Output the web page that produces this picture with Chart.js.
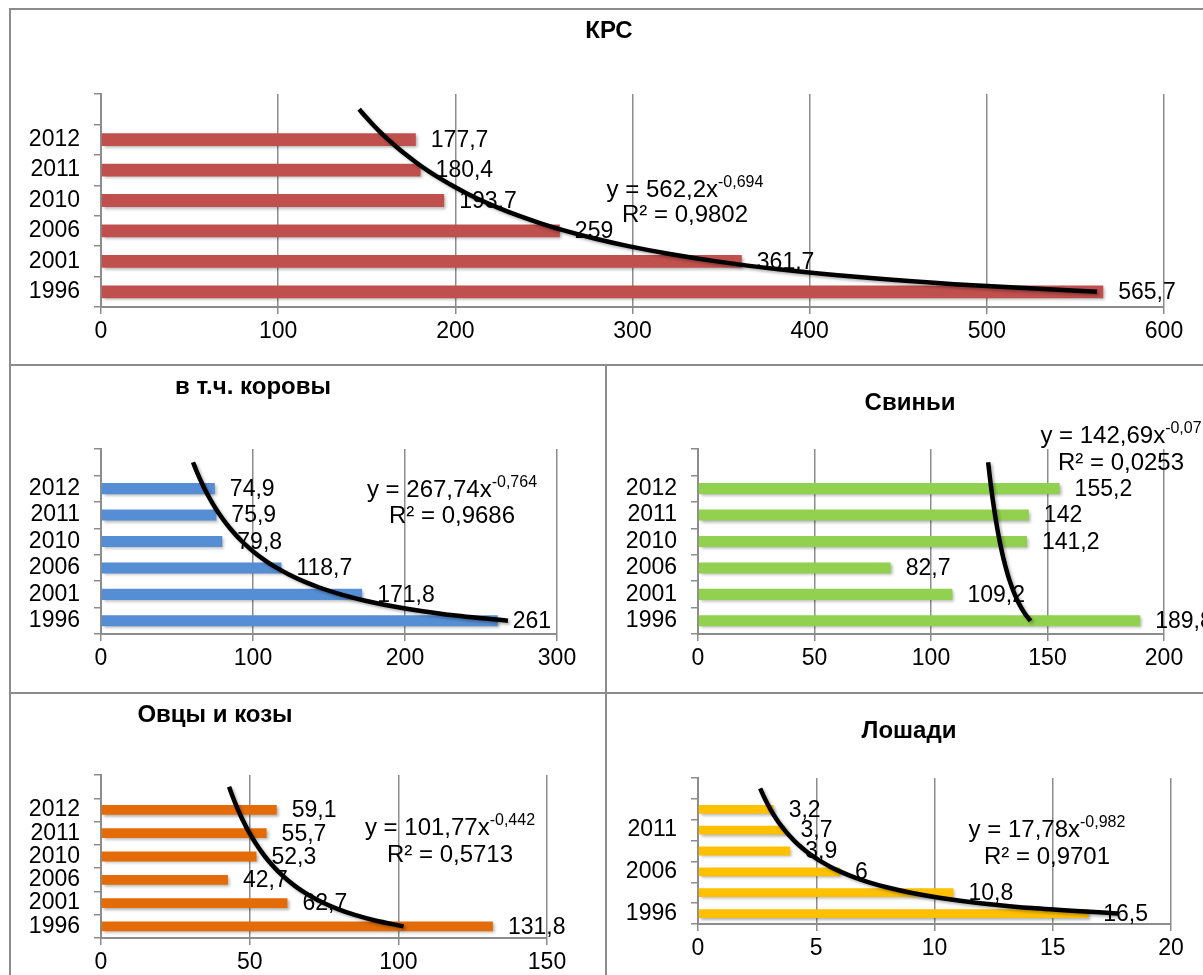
<!DOCTYPE html>
<html lang="ru">
<head>
<meta charset="UTF-8">
<script src="https://cdn.jsdelivr.net/npm/chart.js@4"></script>
<title>Поголовье скота</title>
<style>
  body { margin: 0; background: #fff; width: 1203px; height: 975px; overflow: hidden; position: relative; }
  canvas { position: absolute; }
  .ln { position: absolute; background: #8c8c8c; }
</style>
</head>
<body>
<div class="ln" style="left:9px;top:8px;width:1194px;height:2px"></div>
<div class="ln" style="left:9px;top:8px;width:2px;height:967px"></div>
<div class="ln" style="left:9px;top:364px;width:1194px;height:2px"></div>
<div class="ln" style="left:605px;top:364px;width:2px;height:611px"></div>
<div class="ln" style="left:9px;top:692px;width:1194px;height:2px"></div>

<canvas id="krs"></canvas>
<canvas id="cows"></canvas>
<canvas id="pigs"></canvas>
<canvas id="sheep"></canvas>
<canvas id="horses"></canvas>

<script>
// data
const years = ['1996', '2001', '2006', '2010', '2011', '2012'];
const krsValues = [565.7, 361.7, 259, 193.7, 180.4, 177.7];
const cowsValues = [261, 171.8, 118.7, 79.8, 75.9, 74.9];
const pigsValues = [189.8, 109.2, 82.7, 141.2, 142, 155.2];
const sheepValues = [131.8, 62.7, 42.7, 52.3, 55.7, 59.1];
const horsesValues = [16.5, 10.8, 6, 3.9, 3.7, 3.2];

// power trendlines y = a * x^b as printed on the chart, plus R²
const krsTrend = [562.2, -0.694, 0.9802];
const cowsTrend = [267.74, -0.764, 0.9686];
const pigsTrend = [142.69, -0.07, 0.0253];
const sheepTrend = [101.77, -0.442, 0.5713];
const horsesTrend = [17.78, -0.982, 0.9701];

const FONT = '"Liberation Sans", Arial, sans-serif';
const GRID = '#8c8c8c';

function fmt(v) {
    return String(v).replace('.', ',');
}

// shadows, bar value labels, titles and trend equations
const decor = {
    id: 'decor',
    beforeDatasetDraw(chart) {
        const ctx = chart.ctx;
        ctx.save();
        ctx.shadowColor = 'rgba(0,0,0,0.3)';
        ctx.shadowBlur = 3;
        ctx.shadowOffsetX = 2;
        ctx.shadowOffsetY = 2;
    },
    afterDatasetDraw(chart, args) {
        const ctx = chart.ctx;
        ctx.restore();
        if (args.meta.type !== 'bar') return;
        const vals = chart.data.datasets[args.index].data;
        ctx.save();
        ctx.font = '23px ' + FONT;
        ctx.fillStyle = '#000';
        ctx.textAlign = 'left';
        ctx.textBaseline = 'middle';
        args.meta.data.forEach((bar, i) => {
            ctx.fillText(fmt(vals[i]), bar.x + 15, bar.y + 1);
        });
        ctx.restore();
    },
    afterDraw(chart, args, o) {
        const ctx = chart.ctx;
        const ox = o.box[0], oy = o.box[1];
        ctx.save();
        ctx.fillStyle = '#000';
        ctx.textBaseline = 'alphabetic';
        ctx.font = 'bold 24px ' + FONT;
        ctx.textAlign = 'center';
        ctx.fillText(o.title, o.titlePos[0] - ox, o.titlePos[1] - oy);

        // equation with superscript exponent
        const main = 'y = ' + fmt(o.trend[0]) + 'x';
        const sup = fmt(o.trend[1]);
        ctx.font = '24px ' + FONT;
        const w1 = ctx.measureText(main).width;
        ctx.font = '16px ' + FONT;
        const w2 = ctx.measureText(sup).width;
        let x = o.eqPos[0] - ox - (w1 + w2) / 2;
        ctx.textAlign = 'left';
        ctx.font = '24px ' + FONT;
        ctx.fillText(main, x, o.eqPos[1] - oy);
        ctx.font = '16px ' + FONT;
        ctx.fillText(sup, x + w1, o.eqPos[1] - oy - 10);
        ctx.font = '24px ' + FONT;
        ctx.textAlign = 'center';
        ctx.fillText('R² = ' + fmt(o.trend[2]), o.eqPos[0] - ox, o.eqPos[2] - oy);
        ctx.restore();
    }
};

function makeChart(p) {
    const cv = document.getElementById(p.id);
    const [left, top, w, h] = p.box;
    cv.width = w;
    cv.height = h;
    cv.style.left = left + 'px';
    cv.style.top = top + 'px';
    cv.style.width = w + 'px';
    cv.style.height = h + 'px';

    // one spare slot on top for the trendline forecast period
    const labels = years.concat(['']);
    // trend curve from the printed equation, x = 1 .. 7 (category index)
    const trendPts = [];
    for (let k = 1; k <= labels.length; k += 0.25) {
        trendPts.push({ x: p.trend[0] * Math.pow(k, p.trend[1]), y: k });
    }

    new Chart(cv, {
        data: {
            labels: labels,
            datasets: [{
                type: 'line',
                data: trendPts,
                yAxisID: 'yt',
                borderColor: '#000',
                borderWidth: 4.5,
                pointRadius: 0,
                cubicInterpolationMode: 'monotone',
                order: 0
            }, {
                type: 'bar',
                data: p.values,
                yAxisID: 'y',
                backgroundColor: p.color,
                grouped: false,
                barPercentage: 0.42,
                categoryPercentage: 1,
                order: 1
            }]
        },
        options: {
            indexAxis: 'y',
            responsive: false,
            animation: false,
            devicePixelRatio: 1,
            layout: { padding: { left: 0, top: p.pad[1], right: p.pad[2], bottom: 0 } },
            plugins: {
                legend: { display: false },
                tooltip: { enabled: false },
                decor: {
                    box: p.box, title: p.title, titlePos: p.titlePos,
                    trend: p.trend, eqPos: p.eqPos
                }
            },
            scales: {
                x: {
                    type: 'linear',
                    min: 0,
                    max: p.max,
                    ticks: { stepSize: p.step, maxRotation: 0, padding: 4, color: '#000', font: { family: FONT, size: 23 } },
                    grid: { color: GRID, lineWidth: 1.5, tickLength: 7 },
                    border: { color: GRID, width: 2 },
                    afterFit(s) { s.height = p.pad[3]; }
                },
                y: {
                    type: 'category',
                    reverse: true,
                    offset: true,
                    ticks: {
                        autoSkip: false,
                        padding: 14,
                        color: '#000',
                        font: { family: FONT, size: 23 },
                        callback(v, i) {
                            if (p.everyOther && i % 2 === 1) return '';
                            return this.getLabelForValue(v);
                        }
                    },
                    grid: { drawOnChartArea: false, color: GRID, lineWidth: 1.5, tickLength: 7, offset: true },
                    border: { color: GRID, width: 2 },
                    afterFit(s) { s.width = p.pad[0]; }
                },
                yt: { type: 'linear', min: 0.5, max: 7.5, display: false }
            }
        },
        plugins: [decor]
    });
}

makeChart({
    id: 'krs', box: [11, 11, 1192, 353], pad: [90, 83, 39, 57],
    values: krsValues, color: '#C0504D', max: 600, step: 100, trend: krsTrend,
    title: 'КРС', titlePos: [609, 38], eqPos: [685, 197, 222]
});
makeChart({
    id: 'cows', box: [11, 366, 594, 326], pad: [90, 83, 48, 58],
    values: cowsValues, color: '#558ED5', max: 300, step: 100, trend: cowsTrend,
    title: 'в т.ч. коровы', titlePos: [253, 394], eqPos: [452, 497, 523]
});
makeChart({
    id: 'pigs', box: [607, 366, 596, 326], pad: [91, 83, 39, 58],
    values: pigsValues, color: '#92D050', max: 200, step: 50, trend: pigsTrend,
    title: 'Свиньи', titlePos: [910, 410], eqPos: [1121, 443, 470]
});
makeChart({
    id: 'sheep', box: [11, 694, 594, 281], pad: [90, 81, 58, 37],
    values: sheepValues, color: '#E36C09', max: 150, step: 50, trend: sheepTrend,
    title: 'Овцы и козы', titlePos: [215, 722], eqPos: [450, 835, 862]
});
makeChart({
    id: 'horses', box: [607, 694, 596, 281], pad: [91, 84, 32, 51],
    values: horsesValues, color: '#FFC000', max: 20, step: 5, trend: horsesTrend,
    title: 'Лошади', titlePos: [909, 738], eqPos: [1047, 837, 864], everyOther: true
});
</script>
</body>
</html>
